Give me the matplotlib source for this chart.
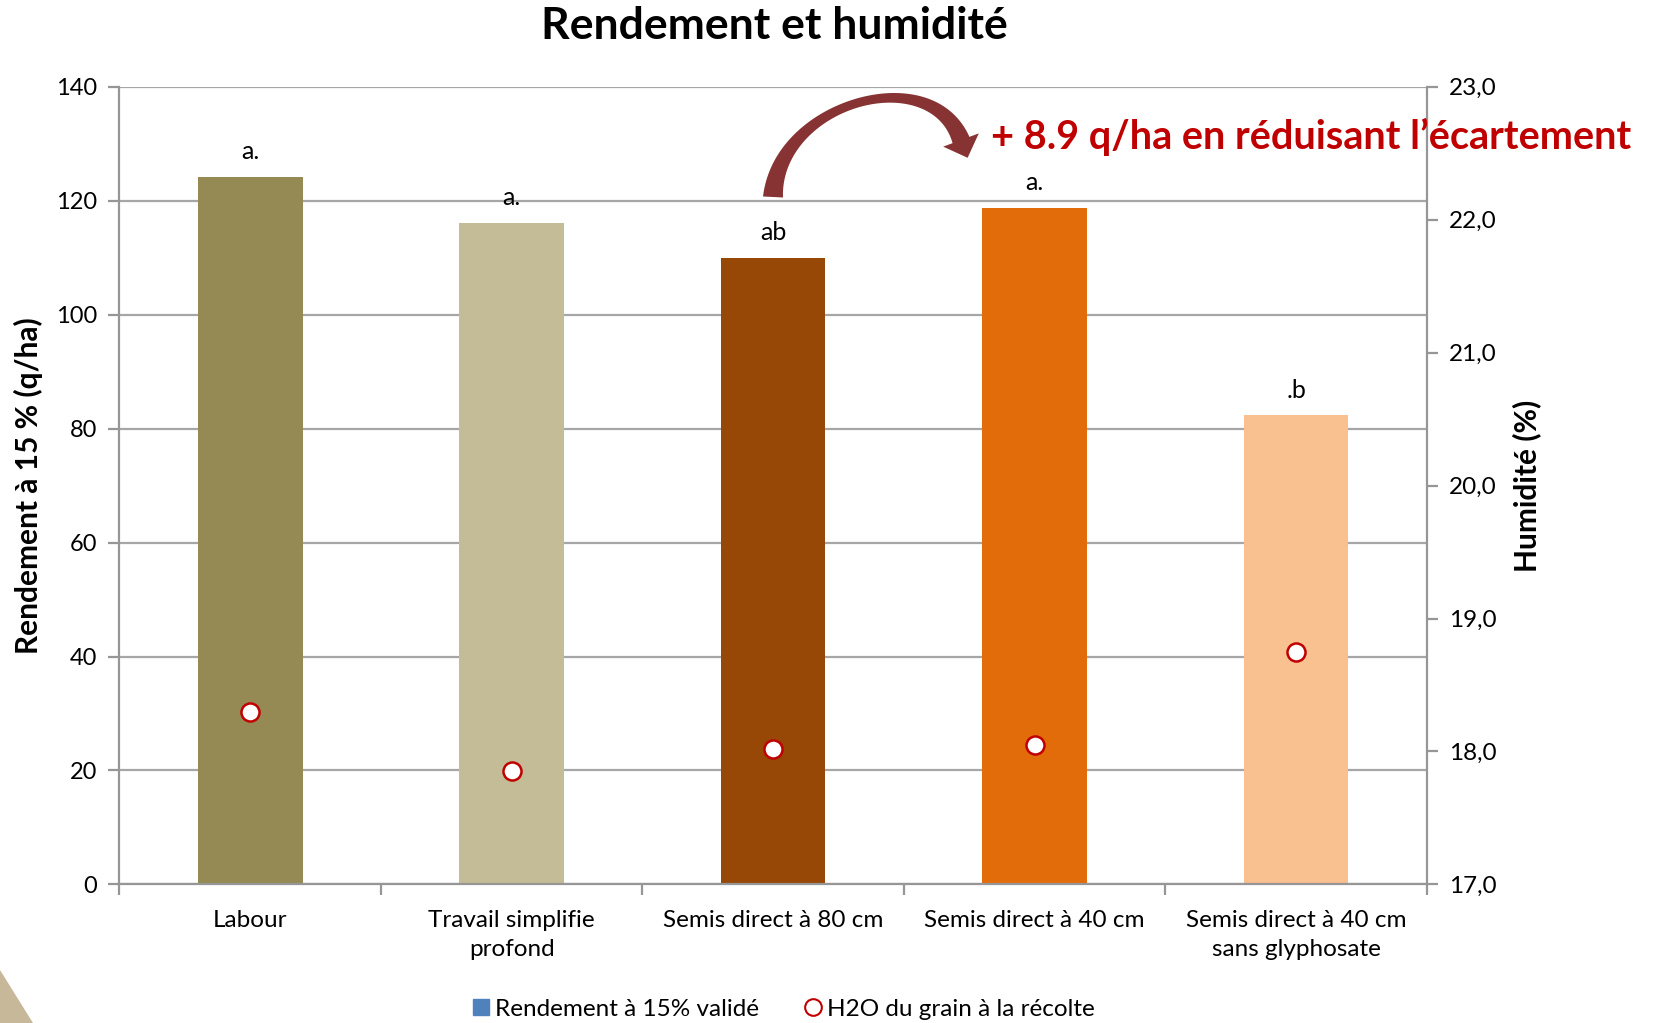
import numpy as np
import matplotlib
matplotlib.use("Agg")
import matplotlib.pyplot as plt
from matplotlib.patches import Polygon
from matplotlib.lines import Line2D
from matplotlib.ticker import FuncFormatter, MultipleLocator

plt.rcParams['font.family'] = ['Lato', 'DejaVu Sans']

categories = ["Labour", "Travail simplifie\nprofond", "Semis direct à 80 cm",
              "Semis direct à 40 cm", "Semis direct à 40 cm\nsans glyphosate"]
rendement = [124.2, 116.1, 110.0, 118.7, 82.3]
humidite = [18.30, 17.85, 18.02, 18.05, 18.75]
lettres = ["a.", "a.", "ab", "a.", ".b"]
bar_colors = ["#958A54", "#C4BC96", "#974706", "#E36C0A", "#F9C090"]

W, H = 1657, 1023
fig = plt.figure(figsize=(W / 100, H / 100), dpi=100)
ax = fig.add_axes([0.0721, 0.1354, 0.789, 0.780])
x = list(range(len(categories)))
ax.bar(x, rendement, width=0.40, color=bar_colors, zorder=2)
ax.set_xlim(-0.5, 4.5)
ax.set_ylim(0, 140)
ax.yaxis.set_major_locator(MultipleLocator(20))
ax.grid(axis='y', color='#A6A6A6', linewidth=1.6, zorder=0)
ax.set_axisbelow(True)
for s in ['top', 'right']:
    ax.spines[s].set_visible(False)
for s in ['left', 'bottom']:
    ax.spines[s].set_color('#969696')
    ax.spines[s].set_linewidth(1.6)
ax.set_xticks(x)
ax.set_xticklabels(categories, fontsize=17.5, linespacing=1.45)
ax.tick_params(axis='x', length=0, pad=18.5)
ax.set_xticks([i - 0.5 for i in range(len(categories) + 1)], minor=True)
ax.tick_params(axis='x', which='minor', length=8, width=1.6, color='#969696', direction='out')
ax.tick_params(axis='y', length=8, width=1.6, color='#969696', labelsize=17, pad=8)
ax.text(-0.0695, 0.5, "Rendement à 15 % (q/ha)", transform=ax.transAxes, rotation=90,
        ha='center', va='center', fontsize=21.5, fontweight='bold')

for xi, v, t in zip(x, rendement, lettres):
    ax.annotate(t, (xi, v), xytext=(0, 18), textcoords='offset points',
                ha='center', va='center', fontsize=18)

ax2 = ax.twinx()
ax2.set_ylim(17, 23)
ax2.yaxis.set_major_locator(MultipleLocator(1))
ax2.yaxis.set_major_formatter(FuncFormatter(lambda v, p: f"{v:.1f}".replace('.', ',')))
for s in ['top', 'left', 'bottom']:
    ax2.spines[s].set_visible(False)
ax2.spines['right'].set_color('#969696')
ax2.spines['right'].set_linewidth(1.6)
ax2.tick_params(axis='y', length=8, width=1.6, color='#969696', labelsize=17.5, pad=8)
ax2.plot(x, humidite, linestyle='none', marker='o', markersize=13,
         markerfacecolor='white', markeredgecolor='#C00000', markeredgewidth=1.8, zorder=3)
ax2.text(1.0767, 0.5, "Humidité (%)", transform=ax2.transAxes, rotation=90,
         ha='center', va='center', fontsize=21.5, fontweight='bold')

fig.text(0.4675, 0.9746, "Rendement et humidité", ha='center', va='center',
         fontsize=32, fontweight='bold')

fig.text(0.598, 0.866, "+ 8.9 q/ha en réduisant l’écartement", fontsize=28.5,
         fontweight='bold', color='#C00000', ha='left', va='center')

# curved block arrow (decoration), built in pixel space of the figure
P0 = np.array([773.0, 197.0])
P3 = np.array([961.0, 140.0])
P1 = P0 + 95 * np.array([0.05, -1.0])
P2 = P3 - 85 * np.array([0.35, 0.94])
t = np.linspace(0, 1, 120)[:, None]
C = (1 - t) ** 3 * P0 + 3 * (1 - t) ** 2 * t * P1 + 3 * (1 - t) * t ** 2 * P2 + t ** 3 * P3
D = 3 * (1 - t) ** 2 * (P1 - P0) + 6 * (1 - t) * t * (P2 - P1) + 3 * t ** 2 * (P3 - P2)
D = D / np.linalg.norm(D, axis=1, keepdims=True)
N = np.column_stack([-D[:, 1], D[:, 0]])
tt = t[:, 0]
w = np.where(tt < 0.5, 9 + 11 * (1 - 2 * tt) ** 2, 9 + 9 * (2 * tt - 1) ** 2)
left = C + N * (w[:, None] / 2)
right = C - N * (w[:, None] / 2)
d_end = D[-1]
n_end = N[-1]
tip = P3 + 19 * d_end
hb1 = P3 + n_end * 19
hb2 = P3 - n_end * 19
pts = np.vstack([left, hb1, tip, hb2, right[::-1]])
pts_fig = np.column_stack([pts[:, 0] / W, 1 - pts[:, 1] / H])
fig.patches.append(Polygon(pts_fig, closed=True, transform=fig.transFigure,
                           facecolor='#873333', edgecolor='none'))

tri = Polygon([(0, 1 - 970 / H), (33 / W, 0), (0, 0)], closed=True,
              transform=fig.transFigure, facecolor='#C8B89A', edgecolor='none')
fig.patches.append(tri)

handles = [Line2D([], [], linestyle='none', marker='s', markersize=11, color='#4F81BD'),
           Line2D([], [], linestyle='none', marker='o', markersize=12, markerfacecolor='white',
                  markeredgecolor='#C00000', markeredgewidth=1.5)]
fig.legend(handles, ["Rendement à 15% validé", "H2O du grain à la récolte"], loc='center',
           bbox_to_anchor=(0.471, 0.0135), ncol=2, frameon=False, fontsize=17.5,
           handletextpad=0.0, columnspacing=1.6, handlelength=1.2)

fig.savefig("out.png", dpi=100)
